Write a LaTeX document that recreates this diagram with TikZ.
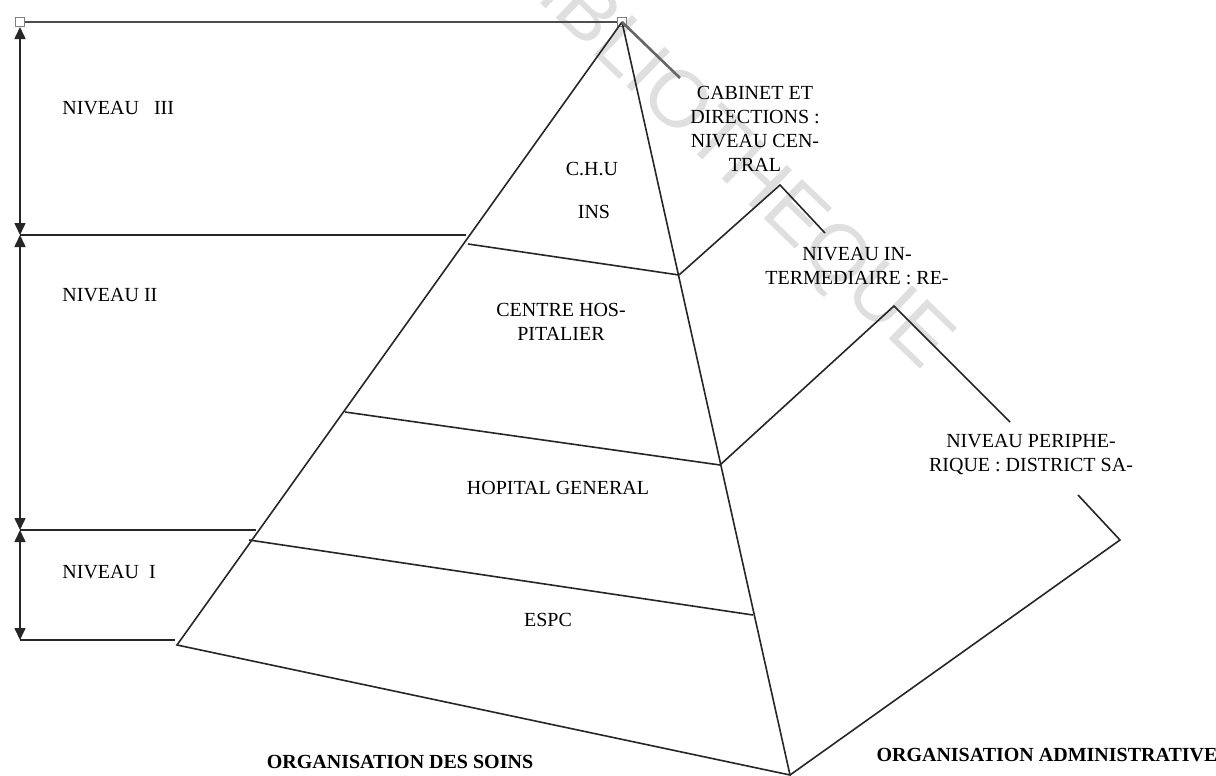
\documentclass[tikz,border=0pt]{standalone}
\usepackage{fontspec}
\setmainfont{Liberation Serif}
\newfontfamily\wmfont{Liberation Sans}
\usetikzlibrary{arrows.meta}

\begin{document}
\begin{tikzpicture}[x=0.5pt, y=-0.5pt,
    lbl/.style={font=\fontsize{10}{12}\selectfont, align=center, inner sep=0pt},
    ttl/.style={font=\fontsize{10}{12}\selectfont\bfseries, inner sep=0pt},
    edge/.style={line width=0.8pt, draw=black!85},
    lvl/.style={line width=0.8pt, draw=black!85, {Triangle[length=6pt,width=5.5pt]}-{Triangle[length=6pt,width=5.5pt]}},
    handle/.style={draw=gray, fill=white, line width=0.5pt, minimum size=4.5pt, inner sep=0pt}]
    \useasboundingbox (0,0) rectangle (1216,776);

    % Watermark
    \begin{scope}
        \clip (0,0) rectangle (1216,776);
        \node[font=\wmfont\fontsize{40}{40}\selectfont, text=gray!25, rotate=-44] (wm) at (724,152) {BIBLIOTHEQUE};
    \end{scope}

    % Corners of the pyramid
    \coordinate (apex) at (622,22);
    \coordinate (bl) at (177,645);
    \coordinate (bv) at (790,775);
    \coordinate (br) at (1120,540);

    % Points on the front right edge
    \coordinate (f1) at (679,275);
    \coordinate (f2) at (720,465);
    \coordinate (f3) at (753,615);

    % Handles
    \node[handle] (hL) at (20,22) {};
    \node[handle] (hA) at (622,22) {};

    % Frame of the levels
    \coordinate (lv1) at (20,235);
    \coordinate (lv2) at (20,530);
    \coordinate (lv3) at (20,640);
    \draw[line width=1.2pt, draw=black!70] (hL) -- (hA);
    \draw[edge] (lv1) -- (466,235);
    \draw[edge] (lv2) -- (256,530);
    \draw[edge] (lv3) -- (175,640);
    \draw[lvl] (hL) -- (lv1);
    \draw[lvl] (lv1) -- (lv2);
    \draw[lvl] (lv2) -- (lv3);

    % Front face
    \draw[edge] (apex) -- (bl) -- (bv) -- (apex);
    \draw[edge] (468,244) -- (f1);
    \draw[edge] (345,412) -- (f2);
    \draw[edge] (249,540) -- (f3);

    % Right face
    \draw[line width=1.3pt, draw=black!60] (apex) -- (680,78);
    \draw[edge] (f1) -- (780,185) -- (825,233);
    \draw[edge] (f2) -- (894,306) -- (1010,422);
    \draw[edge] (bv) -- (br) -- (1078,495);

    % Levels
    \node[lbl, anchor=west] (n3) at (62,108) {NIVEAU\ \ \ III};
    \node[lbl, anchor=west] (n2) at (62,295) {NIVEAU II};
    \node[lbl, anchor=west] (n1) at (62,572) {NIVEAU\ \ I};

    % Care levels
    \node[lbl] (chu) at (592,169) {C.H.U};
    \node[lbl] (ins) at (594,212) {INS};
    \node[lbl] (ch) at (561,322) {CENTRE HOS-\\PITALIER};
    \node[lbl] (hg) at (558,488) {HOPITAL GENERAL};
    \node[lbl] (espc) at (548,620) {ESPC};

    % Administrative levels
    \node[lbl] (cab) at (755,129) {CABINET ET\\DIRECTIONS :\\NIVEAU CEN-\\TRAL};
    \node[lbl] (inter) at (857,266) {NIVEAU IN-\\TERMEDIAIRE : RE-};
    \node[lbl] (peri) at (1031,455) {NIVEAU PERIPHE-\\RIQUE : DISTRICT SA-};

    % Titles
    \node[ttl] (soins) at (400,762) {ORGANISATION DES SOINS};
    \node[ttl] (admin) at (1047,755) {ORGANISATION ADMINISTRATIVE};
\end{tikzpicture}
\end{document}
